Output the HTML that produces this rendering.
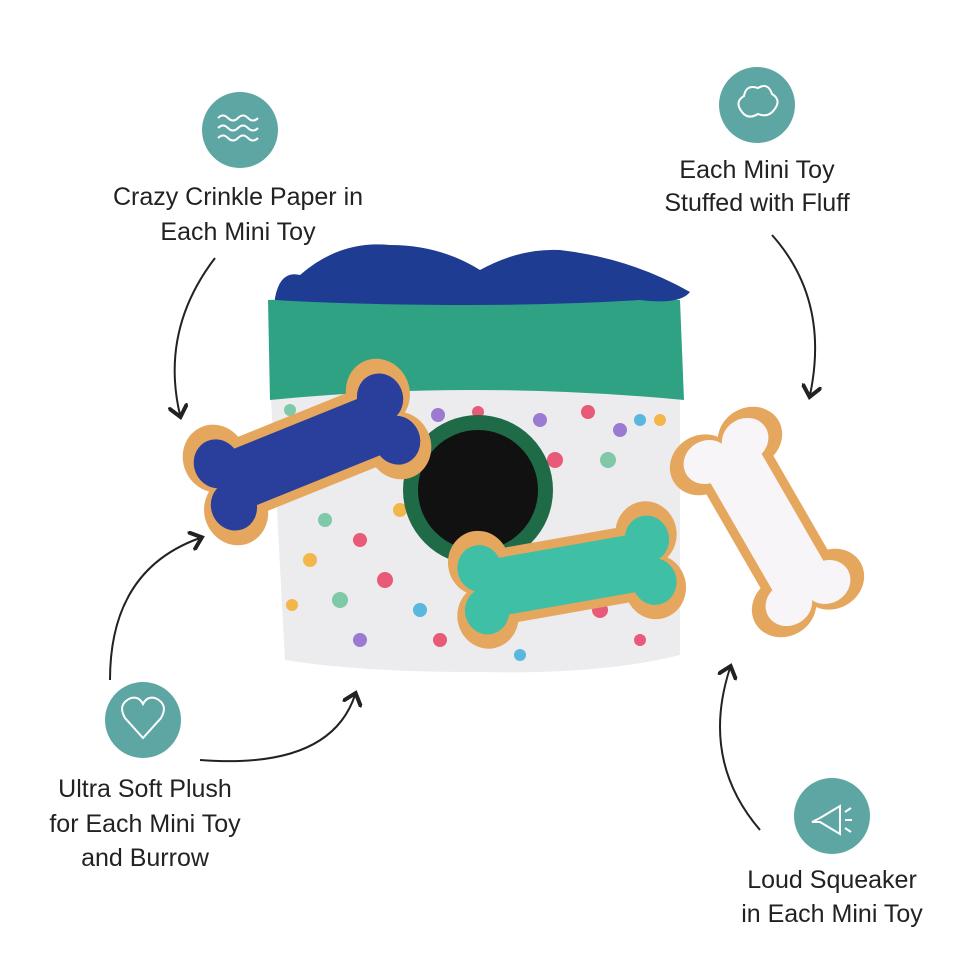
<!DOCTYPE html>
<html><head><style>
body{margin:0;background:#fff;width:969px;height:969px;overflow:hidden;font-family:"Liberation Sans",sans-serif}
</style></head><body>
<svg width="969" height="969" viewBox="0 0 969 969" xmlns="http://www.w3.org/2000/svg">
<defs>
<marker id="ah" markerWidth="10" markerHeight="10" refX="5" refY="5" orient="auto"><path d="M0,0 L6,5 L0,10" fill="none" stroke="#222" stroke-width="2"/></marker>
<g id="bone">
<rect x="-100" y="-42" width="200" height="84" rx="10"/>
<circle cx="-100" cy="-30" r="36"/><circle cx="-100" cy="30" r="36"/>
<circle cx="100" cy="-30" r="36"/><circle cx="100" cy="30" r="36"/>
</g>
<g id="bonein">
<rect x="-100" y="-32" width="200" height="64" rx="8"/>
<circle cx="-100" cy="-24" r="26"/><circle cx="-100" cy="24" r="26"/>
<circle cx="100" cy="-24" r="26"/><circle cx="100" cy="24" r="26"/>
</g>
</defs>
<rect width="969" height="969" fill="#fff"/>
<circle cx="240" cy="130" r="38" fill="#5ea6a4"/>
<path d="M218,118 q5,-5 10,0 q5,5 10,0 q5,-5 10,0 q5,5 10,0 M218,128 q5,-5 10,0 q5,5 10,0 q5,-5 10,0 q5,5 10,0 M218,138 q5,-5 10,0 q5,5 10,0 q5,-5 10,0 q5,5 10,0" fill="none" stroke="#fff" stroke-width="2"/>
<circle cx="757" cy="105" r="38" fill="#5ea6a4"/>
<path d="M742,112 q-8,-10 2,-16 q2,-12 14,-8 q10,-6 14,6 q10,6 2,16 q-6,8 -16,4 q-10,6 -16,-2z" fill="none" stroke="#fff" stroke-width="2"/>
<circle cx="143" cy="720" r="38" fill="#5ea6a4"/>
<path d="M143,738 L125,718 q-8,-14 6,-20 q8,-2 12,6 q4,-8 12,-6 q14,6 6,20z" fill="none" stroke="#fff" stroke-width="2"/>
<circle cx="832" cy="816" r="38" fill="#5ea6a4"/>
<path d="M812,822 l8,-4 l20,-12 v28 l-20,-12z M845,812 l6,-4 M845,820 h7 M845,828 l6,4" fill="none" stroke="#fff" stroke-width="2"/>
<g font-family="Liberation Sans,sans-serif" font-size="25" fill="#222" text-anchor="middle">
<text x="238" y="205">Crazy Crinkle Paper in</text>
<text x="238" y="240">Each Mini Toy</text>
<text x="757" y="178">Each Mini Toy</text>
<text x="757" y="211">Stuffed with Fluff</text>
<text x="145" y="797">Ultra Soft Plush</text>
<text x="145" y="832">for Each Mini Toy</text>
<text x="145" y="866">and Burrow</text>
<text x="832" y="888">Loud Squeaker</text>
<text x="832" y="922">in Each Mini Toy</text>
</g>
<g fill="none" stroke="#222" stroke-width="2">
<path d="M215,258 Q160,330 180,415" marker-end="url(#ah)"/>
<path d="M772,235 Q830,300 810,395" marker-end="url(#ah)"/>
<path d="M110,680 Q110,570 200,538" marker-end="url(#ah)"/>
<path d="M200,760 Q330,770 355,695" marker-end="url(#ah)"/>
<path d="M760,830 Q700,760 730,668" marker-end="url(#ah)"/>
</g>
<path d="M270,380 L680,380 L680,655 Q600,675 480,672 Q360,672 285,660 Z" fill="#ecebee"/>
<path d="M268,300 Q470,290 680,300 L684,400 Q470,380 270,400 Z" fill="#2fa284"/>
<path d="M275,298 Q280,270 300,275 Q340,240 390,245 Q440,245 480,270 Q520,248 560,250 Q630,258 690,292 Q680,305 640,300 Q560,305 470,305 Q360,305 275,300Z" fill="#1f3c93"/>
<g>
<circle cx="290" cy="410" r="6" fill="#7fc8a8"/><circle cx="340" cy="418" r="6" fill="#59b8dd"/>
<circle cx="438" cy="415" r="7" fill="#9b7bd2"/><circle cx="478" cy="412" r="6" fill="#e85a78"/>
<circle cx="540" cy="420" r="7" fill="#9b7bd2"/><circle cx="588" cy="412" r="7" fill="#e85a78"/>
<circle cx="640" cy="420" r="6" fill="#59b8dd"/><circle cx="660" cy="420" r="6" fill="#f3b64a"/>
<circle cx="300" cy="480" r="7" fill="#e85a78"/><circle cx="340" cy="600" r="8" fill="#7fc8a8"/>
<circle cx="620" cy="430" r="7" fill="#9b7bd2"/><circle cx="608" cy="460" r="8" fill="#7fc8a8"/>
<circle cx="600" cy="610" r="8" fill="#e85a78"/><circle cx="420" cy="610" r="7" fill="#59b8dd"/>
<circle cx="310" cy="560" r="7" fill="#f3b64a"/><circle cx="555" cy="460" r="8" fill="#e85a78"/>
<circle cx="650" cy="520" r="7" fill="#7fc8a8"/><circle cx="360" cy="540" r="7" fill="#e85a78"/>
<circle cx="325" cy="520" r="7" fill="#7fc8a8"/><circle cx="385" cy="580" r="8" fill="#e85a78"/>
<circle cx="292" cy="605" r="6" fill="#f3b64a"/><circle cx="360" cy="640" r="7" fill="#9b7bd2"/>
<circle cx="440" cy="640" r="7" fill="#e85a78"/><circle cx="400" cy="510" r="7" fill="#f3b64a"/>
<circle cx="520" cy="655" r="6" fill="#59b8dd"/><circle cx="640" cy="640" r="6" fill="#e85a78"/>
</g>
<circle cx="478" cy="490" r="75" fill="#1f6a47"/>
<circle cx="478" cy="490" r="60" fill="#111"/>
<g transform="translate(307,452) rotate(-22) scale(0.88,0.95)">
<use href="#bone" fill="#e5a75e"/><use href="#bonein" fill="#2a3f9c"/>
</g>
<g transform="translate(567,575) rotate(-10) scale(0.85,0.9)">
<use href="#bone" fill="#e5a75e"/><use href="#bonein" fill="#3fbfa5"/>
</g>
<g transform="translate(767,522) rotate(60) scale(0.82,0.92)">
<use href="#bone" fill="#e5a75e"/><use href="#bonein" fill="#f7f5f7"/>
</g>
</svg>
</body></html>
